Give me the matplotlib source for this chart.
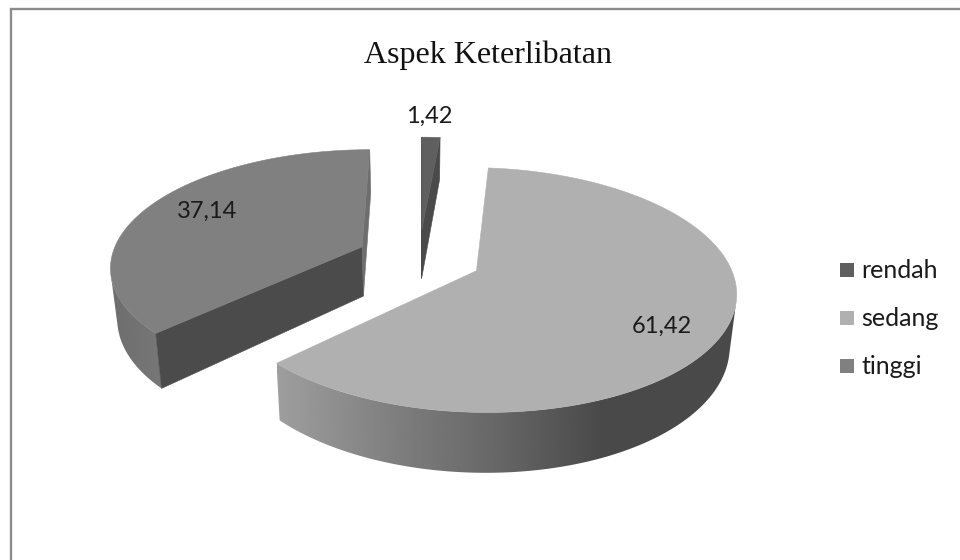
#!/usr/bin/env python3
"""Exploded 3D pie of the engagement aspect, drawn from patches with a simple perspective."""
import numpy as np
import matplotlib
matplotlib.use("Agg")
import matplotlib.pyplot as plt
from matplotlib.patches import Polygon, Rectangle

TITLE = "Aspek Keterlibatan"
categories = ["rendah", "sedang", "tinggi"]
values = [1.42, 61.42, 37.14]
value_labels = ["1,42", "61,42", "37,14"]

top_colors = ["#5f5f5f", "#b0b0b0", "#808080"]
start_face_colors = ["#4a4a4a", "#4a4a4a", "#4b4b4b"]
end_face_colors = ["#4a4a4a", "#4a4a4a", "#6e6e6e"]
# wall shading along screen x, (x positions, grey levels)
wall_shades = [
    ([0, 960], [0.29, 0.29]),
    ([277, 400, 500, 600, 737], [0.62, 0.49, 0.40, 0.29, 0.29]),
    ([110, 165], [0.43, 0.47]),
]
label_pos = [(429, 116), (662, 326), (207, 211)]

# projection settings, in pixels
X0, Y0 = 419, 258
RX, RY = 251, 115.4
PERSP = 0.155
DEPTH = 50
BOTTOM_SHRINK = 0.022
EXPLODE = 0.25


def project(wx, wy):
    s = 1 / (1 + PERSP * wy)
    return np.column_stack([X0 + RX * wx * s, Y0 - RY * wy * s]), DEPTH * s


def drop(p, d):
    # the underside sits lower and pulls slightly towards the middle
    return p + np.column_stack([(X0 - p[:, 0]) * BOTTOM_SHRINK, d])


def signed_area(q):
    x, y = q[:, 0], q[:, 1]
    return 0.5 * np.sum(x * np.roll(y, -1) - np.roll(x, -1) * y)


def draw_face(ax, a, b, a_low, b_low, color):
    q = np.array([a, b, b_low, a_low])
    # skip faces turned away from the viewer
    if signed_area(q) < 0:
        ax.add_patch(Polygon(q, closed=True, fc=color, ec=color, lw=0.4))


def draw_wall(ax, arc, low, shade):
    visible = [signed_area(np.array([arc[i], arc[i + 1], low[i + 1], low[i]])) < 0
               for i in range(len(arc) - 1)]
    idx = np.flatnonzero(visible)
    if len(idx) == 0:
        return
    keep = np.arange(idx[0], idx[-1] + 2)
    outline = np.vstack([arc[keep], low[keep][::-1]])
    x0, x1 = outline[:, 0].min(), outline[:, 0].max()
    y0, y1 = outline[:, 1].min(), outline[:, 1].max()
    # horizontal ramp clipped to the curved side
    ramp = np.interp(np.linspace(x0, x1, 256), shade[0], shade[1])[None, :]
    im = ax.imshow(ramp, extent=(x0, x1, y1, y0), cmap="gray", vmin=0, vmax=1,
                   aspect="auto", interpolation="bilinear", zorder=1)
    clip = Polygon(outline, closed=True, transform=ax.transData)
    im.set_clip_path(clip)


def draw_slice(ax, start, end, top, start_face, end_face, shade):
    mid = (start + end) / 2
    cx, cy = EXPLODE * np.sin(mid), EXPLODE * np.cos(mid)
    theta = np.linspace(start, end, max(int(np.degrees(end - start)), 2) + 1)
    apex_arr, apex_d = project(np.array([cx]), np.array([cy]))
    arc, depth = project(cx + np.sin(theta), cy + np.cos(theta))
    apex, apex_low = apex_arr[0], drop(apex_arr, apex_d)[0]
    low = drop(arc, depth)
    draw_wall(ax, arc, low, shade)
    draw_face(ax, apex, arc[0], apex_low, low[0], start_face)
    draw_face(ax, arc[-1], apex, low[-1], apex_low, end_face)
    ax.add_patch(Polygon(np.vstack([apex, arc]), closed=True, fc=top, ec=top, lw=0.4))


fig = plt.figure(figsize=(9.6, 5.6), dpi=100)
ax = fig.add_axes([0, 0, 1, 1])

# outer frame: only the top and left edges fall inside the canvas
ax.plot([11, 11, 960], [560, 9, 9], color="#8c8c8c", lw=1.7, solid_joinstyle="miter")

ax.text(488, 55, TITLE, family="Liberation Serif", fontsize=23, ha="center", va="center",
        color="#111111")

# slice angles run clockwise from twelve o'clock
edges = np.radians(np.concatenate([[0], np.cumsum(values)]) / np.sum(values) * 360)
for i in [2, 0, 1]:
    draw_slice(ax, edges[i], edges[i + 1], top_colors[i], start_face_colors[i],
               end_face_colors[i], wall_shades[i])

for txt, (x, y) in zip(value_labels, label_pos):
    ax.text(x, y, txt, family="Lato", fontsize=17, ha="center", va="center", color="#1a1a1a")

for i, name in enumerate(categories):
    y = 270 + i * 48
    ax.add_patch(Rectangle((840, y - 7), 14, 14, fc=top_colors[i], ec="none"))
    ax.text(861, y + 1, name, family="Lato", fontsize=18, ha="left", va="center", color="#1a1a1a")

ax.set_xlim(0, 960)
ax.set_ylim(560, 0)
ax.axis("off")

fig.savefig("out.png", dpi=100)
